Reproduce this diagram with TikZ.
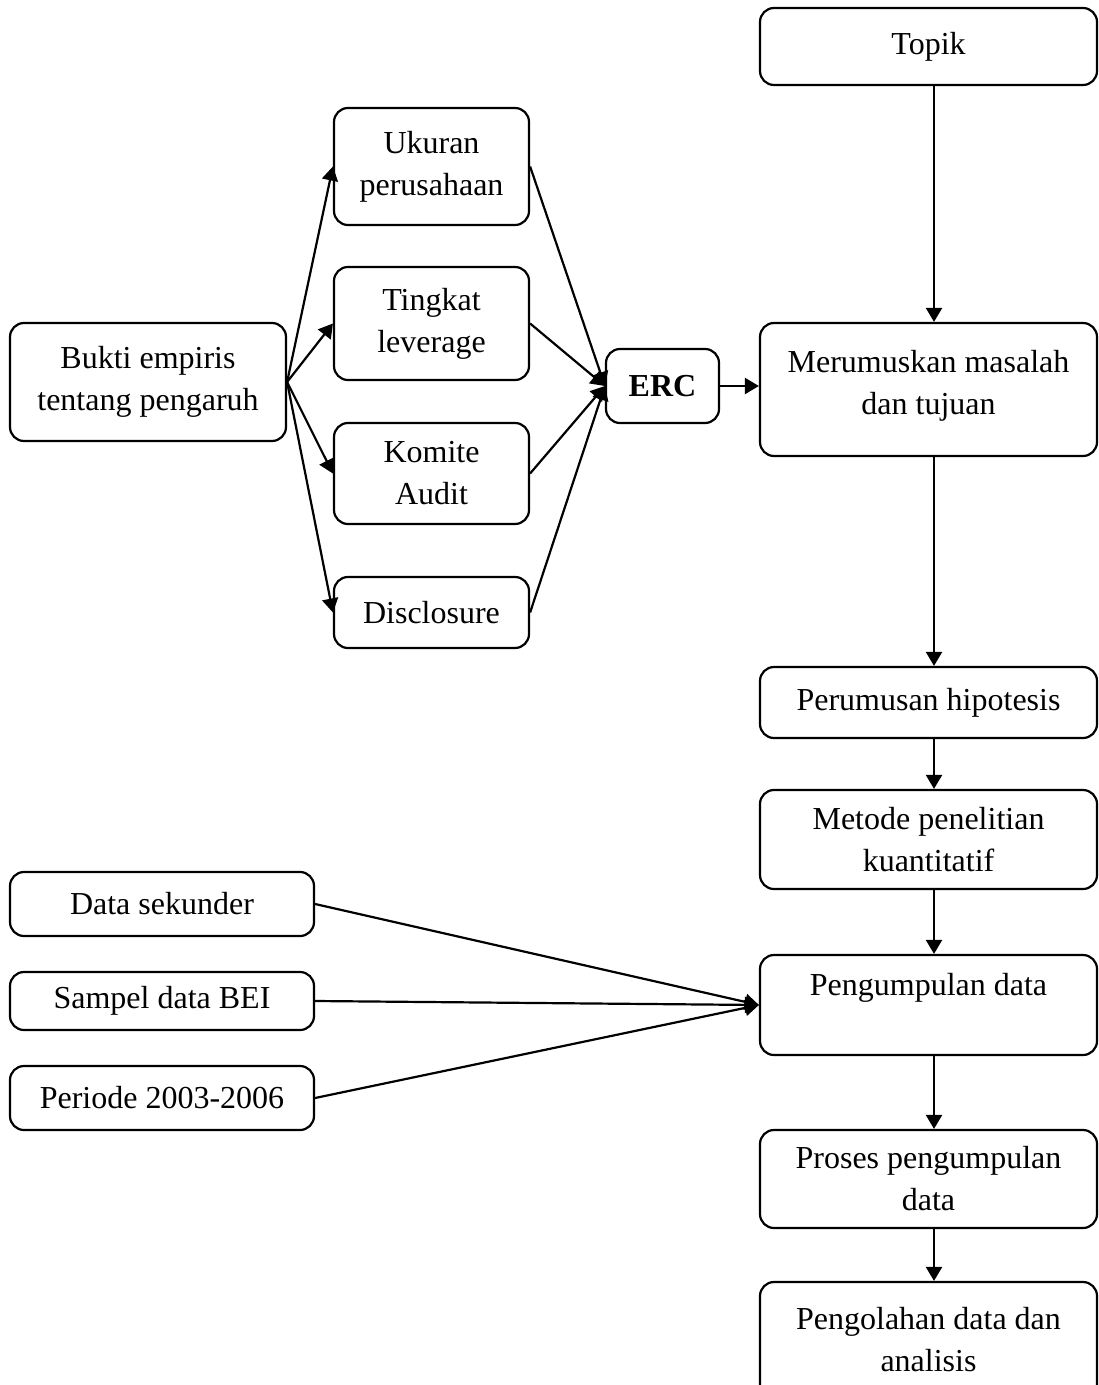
\documentclass[tikz,border=0pt]{standalone}
\usepackage{fontspec}
\setmainfont{Liberation Serif}
\usetikzlibrary{arrows.meta}

\begin{document}
\begin{tikzpicture}[x=0.5pt,y=-0.5pt,
box/.style={draw, rounded corners=7pt, line width=1.1pt, align=center, inner sep=0pt,
  font=\fontsize{16}{21}\selectfont},
arr/.style={line width=1.1pt, -{Triangle[length=7pt,width=8pt]}}]
\useasboundingbox (0,0) rectangle (1098,1385);
% draws boxes, right column
\node[box, minimum width=168.5pt, minimum height=38.5pt] (topik) at (928.5,46.5) {Topik};
\node[box, minimum width=168.5pt, minimum height=66.5pt] (rumus) at (928.5,389.5) {Merumuskan masalah\\dan tujuan\\[-14pt]~};
\node[box, minimum width=168.5pt, minimum height=35.5pt] (hipo) at (928.5,702.5) {Perumusan hipotesis};
\node[box, minimum width=168.5pt, minimum height=49.5pt] (metode) at (928.5,839.5) {Metode penelitian\\kuantitatif};
\node[box, minimum width=168.5pt, minimum height=50pt] (kumpul) at (928.5,1005) {Pengumpulan data\\~};
\node[box, minimum width=168.5pt, minimum height=49pt] (proses) at (928.5,1179) {Proses pengumpulan\\data};
\node[box, minimum width=168.5pt, minimum height=58pt] (olah) at (928.5,1340) {Pengolahan data dan\\analisis};
% draws boxes, left part
\node[box, minimum width=138pt, minimum height=59pt] (bukti) at (148,382) {Bukti empiris\\tentang pengaruh};
\node[box, minimum width=97.5pt, minimum height=58.5pt] (ukuran) at (431.5,166.5) {Ukuran\\perusahaan};
\node[box, minimum width=97.5pt, minimum height=56.5pt] (tingkat) at (431.5,323.5) {Tingkat\\leverage};
\node[box, minimum width=97.5pt, minimum height=50.5pt] (komite) at (431.5,473.5) {Komite\\Audit};
\node[box, minimum width=97.5pt, minimum height=35.5pt] (disc) at (431.5,612.5) {Disclosure};
\node[box, minimum width=56.5pt, minimum height=37pt, font=\fontsize{16}{21}\selectfont\bfseries] (erc) at (662.5,386) {ERC};
\node[box, minimum width=152pt, minimum height=32pt] (sekunder) at (162,904) {Data sekunder};
\node[box, minimum width=152pt, minimum height=29pt] (sampel) at (162,1001) {Sampel data BEI};
\node[box, minimum width=152pt, minimum height=32pt] (periode) at (162,1098) {Periode 2003-2006};
\coordinate (spine) at (934,0);
% draws arrows
\foreach \v in {ukuran,tingkat,komite,disc}{
\draw[arr] (bukti.east) -- (\v.west);
\draw[arr] (\v.east) -- (erc.west);
}
\draw[arr] (erc.east) -- (erc.east -| rumus.west);
\draw[arr] (topik.south -| spine) -- (rumus.north -| spine);
\draw[arr] (rumus.south -| spine) -- (hipo.north -| spine);
\draw[arr] (hipo.south -| spine) -- (metode.north -| spine);
\draw[arr] (metode.south -| spine) -- (kumpul.north -| spine);
\draw[arr] (kumpul.south -| spine) -- (proses.north -| spine);
\draw[arr] (proses.south -| spine) -- (olah.north -| spine);
\foreach \v in {sekunder,sampel,periode}
\draw[arr] (\v.east) -- (kumpul.west);
\end{tikzpicture}
\end{document}
